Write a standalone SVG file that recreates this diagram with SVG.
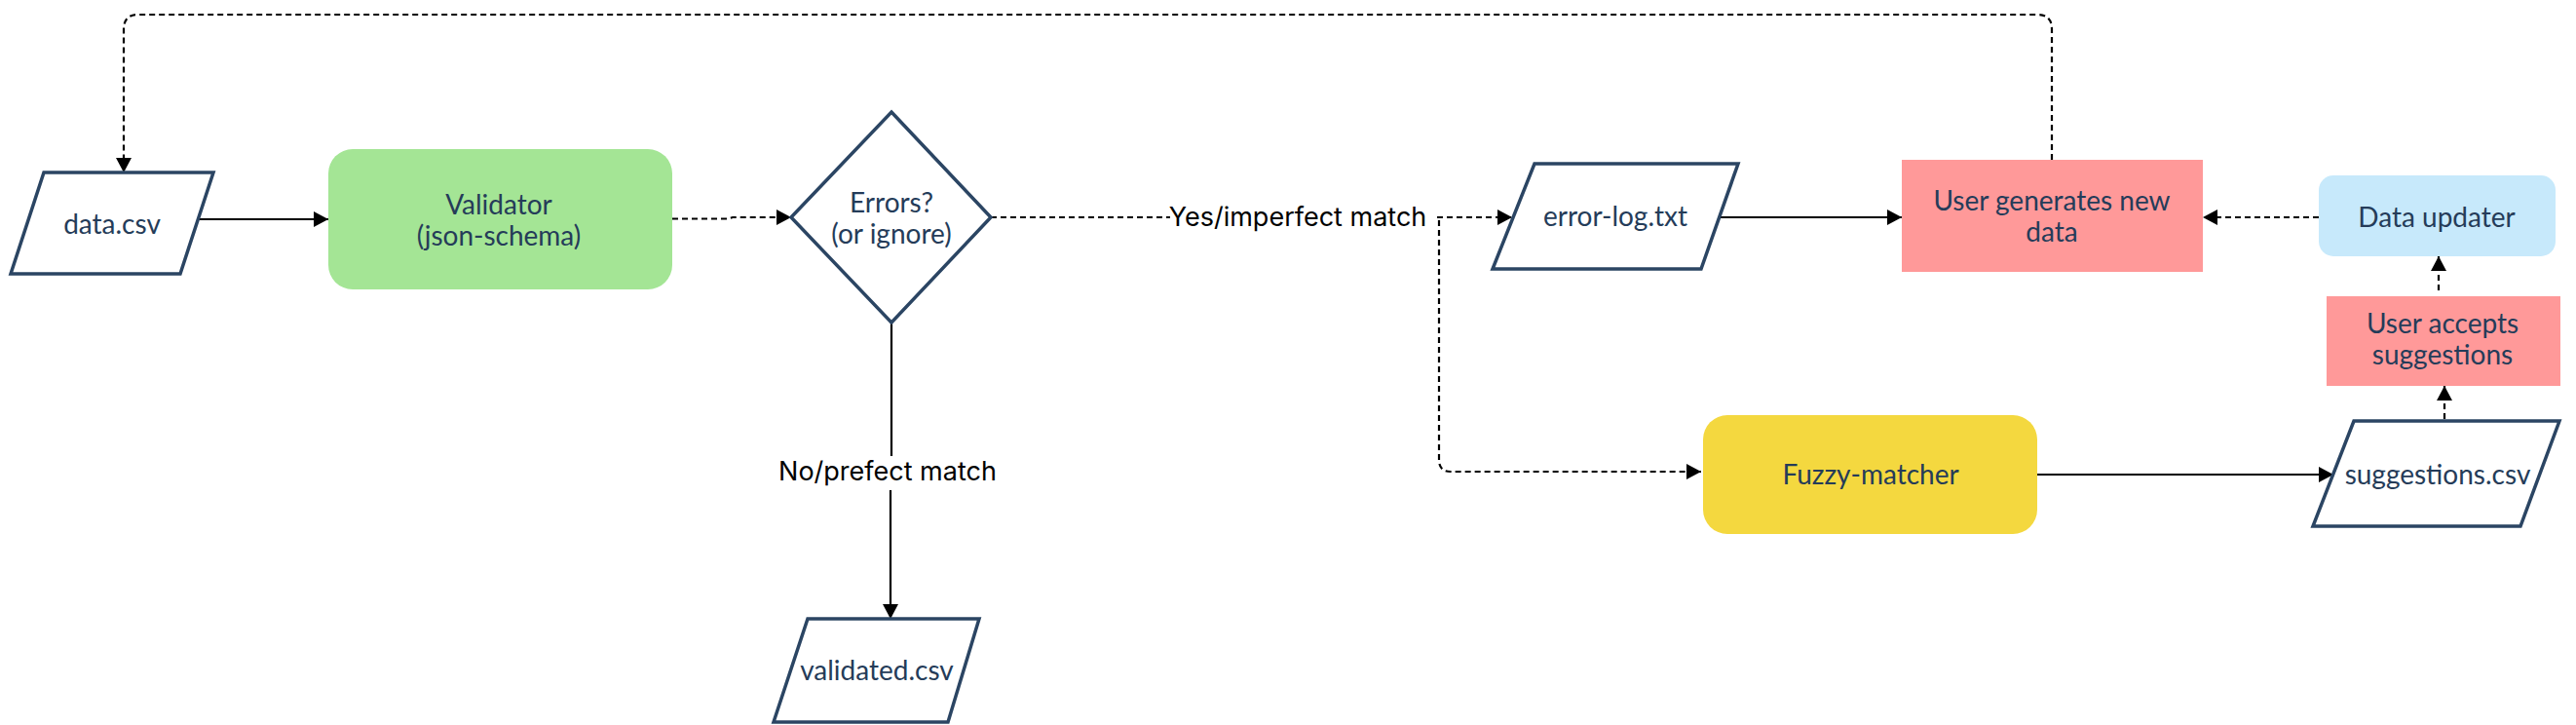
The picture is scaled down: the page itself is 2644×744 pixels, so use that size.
<svg xmlns="http://www.w3.org/2000/svg" width="2644" height="744" viewBox="0 0 2644 744">
  <style>
    .io { fill: #ffffff; stroke: #2b4563; stroke-width: 3.5; stroke-linejoin: miter; }
    .dec { fill: #ffffff; stroke: #2b4563; stroke-width: 3.5; }
    .t { font-family: Lato, "Open Sans", "Liberation Sans", sans-serif; font-size: 28px; fill: #253c59; text-anchor: middle; }
    .lbl { font-family: Inter, "Liberation Sans", sans-serif; font-size: 27px; fill: #000000; text-anchor: middle; }
    .solid { fill: none; stroke: #000000; stroke-width: 2.2; }
    .dash { fill: none; stroke: #000000; stroke-width: 2.2; stroke-dasharray: 6 4; }
  </style>
  <defs>
    <marker id="arr" viewBox="0 0 15 16" refX="15" refY="8" markerWidth="15" markerHeight="16" markerUnits="userSpaceOnUse" orient="auto">
      <path d="M0,0 L15,8 L0,16 z" fill="#000000"/>
    </marker>
  </defs>
  <rect width="2644" height="744" fill="#ffffff"/>

  <g id="connectors">
    <path class="dash" d="M2106,164 V30 Q2106,15 2091,15 H142 Q127,15 127,30 V177" marker-end="url(#arr)"/>
    <path class="solid" d="M203,225 H337" marker-end="url(#arr)"/>
    <path class="dash" d="M690,224.5 H748 L752,223 H812" marker-end="url(#arr)"/>
    <path class="solid" d="M915,331 V468"/>
    <path class="solid" d="M914,503 V635" marker-end="url(#arr)"/>
    <path class="dash" d="M1017,223 H1201"/>
    <path class="dash" d="M1475,223 H1552" marker-end="url(#arr)"/>
    <path class="dash" d="M1477,226 V472 Q1477,484 1489,484 H1746" marker-end="url(#arr)"/>
    <path class="solid" d="M1765,223 H1952" marker-end="url(#arr)"/>
    <path class="dash" d="M2380,223 H2261" marker-end="url(#arr)"/>
    <path class="dash" d="M2503,298 V263" marker-end="url(#arr)"/>
    <path class="dash" d="M2509,430 V396" marker-end="url(#arr)"/>
    <path class="solid" d="M2091,487 H2395" marker-end="url(#arr)"/>
    <text class="lbl" x="1332" y="232">Yes/imperfect match</text>
    <text class="lbl" x="911" y="493">No/prefect match</text>
  </g>

  <g id="data-csv">
    <polygon class="io" points="45,177 219,177 185,281 11,281"/>
    <text class="t" x="115" y="240">data.csv</text>
  </g>

  <g id="validator">
    <rect x="337" y="153" width="353" height="144" rx="25" fill="#a4e595"/>
    <text class="t" x="512" y="220">Validator</text>
    <text class="t" x="512" y="252">(json-schema)</text>
  </g>

  <g id="errors-decision">
    <polygon class="dec" points="915,115 1017,223 915,331 812,223"/>
    <text class="t" x="915" y="218">Errors?</text>
    <text class="t" x="915" y="250">(or ignore)</text>
  </g>

  <g id="validated-csv">
    <polygon class="io" points="829,635 1005,635 973,741 794,741"/>
    <text class="t" x="900" y="698">validated.csv</text>
  </g>

  <g id="error-log">
    <polygon class="io" points="1575,168 1784,168 1746,276 1532,276"/>
    <text class="t" x="1658" y="232">error-log.txt</text>
  </g>

  <g id="user-generates">
    <rect x="1952" y="164" width="309" height="115" fill="#ff9999"/>
    <text class="t" x="2106" y="216">User generates new</text>
    <text class="t" x="2106" y="248">data</text>
  </g>

  <g id="data-updater">
    <rect x="2380" y="180" width="243" height="83" rx="15" fill="#c7e9fb"/>
    <text class="t" x="2501" y="233">Data updater</text>
  </g>

  <g id="user-accepts">
    <rect x="2388" y="304" width="240" height="92" fill="#ff9999"/>
    <text class="t" x="2507" y="342">User accepts</text>
    <text class="t" x="2507" y="374">suggestions</text>
  </g>

  <g id="fuzzy-matcher">
    <rect x="1748" y="426" width="343" height="122" rx="25" fill="#f4d83f"/>
    <text class="t" x="1920" y="497">Fuzzy-matcher</text>
  </g>

  <g id="suggestions-csv">
    <polygon class="io" points="2416,432 2627,432 2587,540 2374,540"/>
    <text class="t" x="2502" y="497">suggestions.csv</text>
  </g>
</svg>
